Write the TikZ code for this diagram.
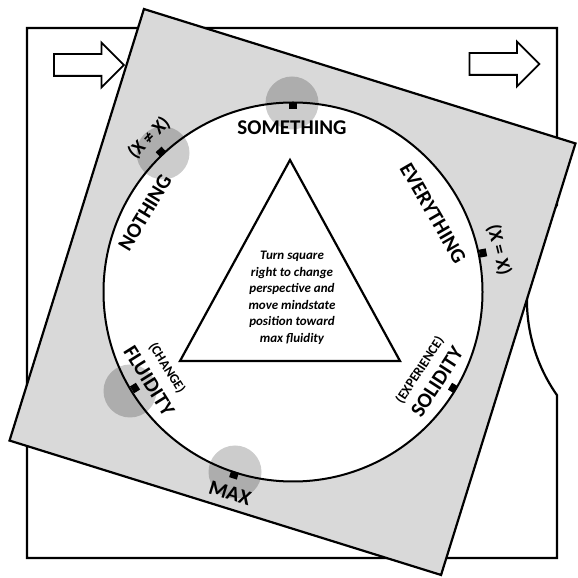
\documentclass[tikz,border=0pt]{standalone}
\usepackage{fontspec}
\setmainfont{Carlito}
\usetikzlibrary{shapes.arrows}

\definecolor{sqgray}{HTML}{D9D9D9}

\begin{document}
\begin{tikzpicture}[x=1pt, y=1pt,
  ringword/.style={font=\bfseries\fontsize{21}{21}\selectfont, inner sep=0pt},
  sideword/.style={font=\bfseries\fontsize{19}{19}\selectfont, inner sep=0pt},
  smallword/.style={font=\bfseries\fontsize{13.5}{13.5}\selectfont, inner sep=0pt},
  spot/.style={circle, fill=black, fill opacity=0.2, minimum size=53pt, inner sep=0pt},
  tick/.style={rectangle, fill=black, minimum width=8pt, minimum height=7pt, inner sep=0pt},
  blockarrow/.style={single arrow, draw, line width=1.8pt, fill=white, minimum height=70pt,
    single arrow head extend=11.5pt, inner xsep=0pt, inner ysep=10pt}]

  \useasboundingbox (0,0) rectangle (578,578);

  % fixed frame with the thumb notch on the right
  \draw[line width=2.2pt, fill=white] (27,20) -- (27,550) -- (557,550) -- (557,373)
    arc[start angle=144.9, end angle=215.1, radius=165.4] -- (557,20) -- cycle;

  % turning arrows
  \node[blockarrow] (arrowL) at (83.5,513) {};
  \node[blockarrow] (arrowR) at (499,514) {};

  % turned square and the ring
  \node[draw, line width=2.2pt, fill=sqgray, minimum size=452pt, inner sep=0pt, rotate=-17.3] (sq) at (292.5,286) {};
  \node[draw, circle, line width=2pt, fill=white, minimum size=379pt, inner sep=0pt] (ring) at (293,286) {};

  % triangle with the note
  \draw[line width=2.2pt] (290,418) -- (400,217) -- (180,217) -- cycle;
  \node[align=center, font=\bfseries\itshape\fontsize{13}{16.5}\selectfont] (note) at (292,280)
    {Turn square\\right to change\\perspective and\\move mindstate\\position toward\\max fluidity};

  % shaded spots
  \node[spot] (spotS) at (292,475) {};
  \node[spot] (spotN) at (163,425) {};
  \node[spot] (spotF) at (130,187) {};
  \node[spot] (spotM) at (235,106) {};

  % ticks on the ring
  \node[tick] (tickS) at (293,472) {};
  \node[tick, rotate=43] (tickN) at (161,426) {};
  \node[tick, rotate=-78.5] (tickE) at (483,325) {};
  \node[tick, rotate=59] (tickSo) at (453,190) {};
  \node[tick, rotate=-58] (tickF) at (135,190) {};
  \node[tick, rotate=-17.5] (tickM) at (234,103) {};

  % words round the ring
  \node[ringword] (something) at (292,450) {SOMETHING};
  \node[ringword, rotate=59] (nothing) at (145,365) {NOTHING};
  \node[ringword, rotate=-60] (everything) at (433,365) {EVERYTHING};
  \node[sideword, rotate=45] (noteq) at (149,440) {(X ≠ X)};
  \node[sideword, rotate=-76] (iseq) at (499,328) {(X = X)};
  \node[smallword, rotate=57] (experience) at (420,208) {(EXPERIENCE)};
  \node[ringword, rotate=57] (solidity) at (437,196) {SOLIDITY};
  \node[smallword, rotate=-58] (change) at (167,210) {(CHANGE)};
  \node[ringword, rotate=-58] (fluidity) at (149,197) {FLUIDITY};
  \node[ringword, rotate=-17] (max) at (230,85) {MAX};

\end{tikzpicture}
\end{document}
